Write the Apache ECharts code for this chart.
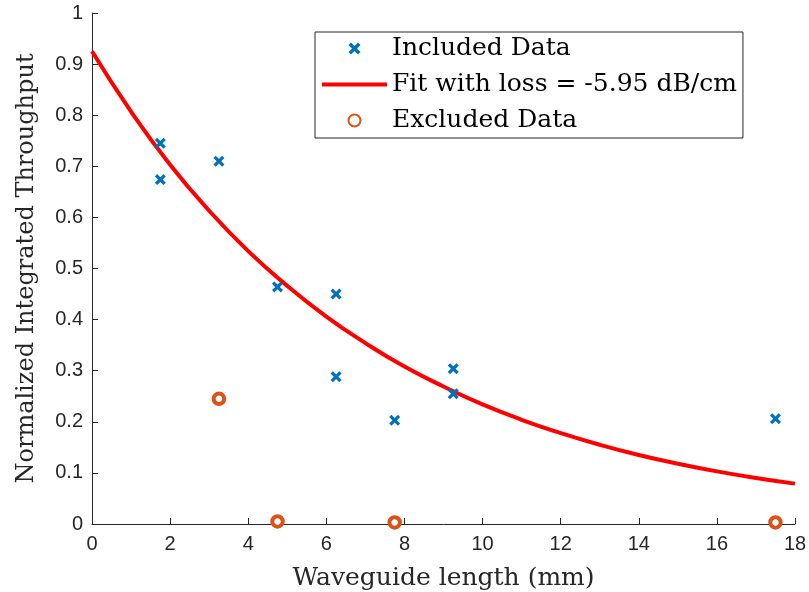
<!DOCTYPE html>
<html>
<head>
<meta charset="utf-8">
<script src="https://cdn.jsdelivr.net/npm/echarts@6/dist/echarts.min.js"></script>
<style>html,body{margin:0;padding:0;background:#fff}#c{width:809px;height:592px}</style>
</head>
<body>
<div id="c"></div>
<script>
// Included data (waveguide length mm, normalized throughput)
const includedX = [1.75, 1.75, 3.25, 4.75, 6.25, 6.25, 7.75, 9.25, 9.25, 17.5];
const includedY = [0.745, 0.674, 0.710, 0.464, 0.450, 0.288, 0.203, 0.304, 0.255, 0.206];
// Excluded data
const excludedX = [3.25, 4.75, 7.75, 17.5];
const excludedY = [0.245, 0.005, 0.003, 0.003];
// Fit curve
const fitX = [0, 1, 2, 3, 4, 5, 6, 7, 8, 9, 10, 11, 12, 13, 14, 15, 16, 17, 18];
const fitY = [0.925, 0.807, 0.703, 0.613, 0.534, 0.466, 0.406, 0.354, 0.308, 0.269, 0.234, 0.204, 0.178, 0.155, 0.135, 0.118, 0.103, 0.090, 0.079];
const xTicks = [0, 2, 4, 6, 8, 10, 12, 14, 16, 18];
const yTicks = [0, 0.1, 0.2, 0.3, 0.4, 0.5, 0.6, 0.7, 0.8, 0.9, 1];
const names = ['Included Data', 'Fit with loss = -5.95 dB/cm', 'Excluded Data'];

const crossPath = 'path://M0,2.5 L2.5,0 L6,3.5 L9.5,0 L12,2.5 L8.5,6 L12,9.5 L9.5,12 L6,8.5 L2.5,12 L0,9.5 L3.5,6 Z';
const linePath = 'path://M0,0 L65,0 L65,4 L0,4 Z';
const axisColor = '#262626';
const serif = '"DejaVu Serif", serif';
const sans = '"Liberation Sans", Arial, sans-serif';

const chart = echarts.init(document.getElementById('c'), null, {renderer: 'canvas'});
chart.setOption({
  animation: false,
  backgroundColor: '#fff',
  grid: {left: 92, right: 14, top: 13, bottom: 68, containLabel: false, outerBoundsMode: 'none'},
  xAxis: {
    type: 'value', min: xTicks[0], max: xTicks[xTicks.length - 1], interval: 2,
    name: 'Waveguide length (mm)', nameLocation: 'middle', nameGap: 42,
    nameTextStyle: {fontFamily: serif, fontSize: 25, color: axisColor},
    axisLine: {show: true, onZero: false, lineStyle: {color: axisColor, width: 1}},
    axisTick: {show: true, inside: true, length: 6, lineStyle: {color: axisColor}},
    axisLabel: {fontFamily: sans, fontSize: 20, color: axisColor, margin: 10},
    splitLine: {show: false}
  },
  yAxis: {
    type: 'value', min: yTicks[0], max: yTicks[yTicks.length - 1], interval: 0.1,
    name: 'Normalized Integrated Throughput', nameLocation: 'middle', nameGap: 53,
    nameTextStyle: {fontFamily: serif, fontSize: 24, color: axisColor},
    axisLine: {show: true, onZero: false, lineStyle: {color: axisColor, width: 1}},
    axisTick: {show: true, inside: true, length: 6, lineStyle: {color: axisColor}},
    axisLabel: {fontFamily: sans, fontSize: 20, color: axisColor, margin: 9,
      formatter: v => String(Math.round(v * 10) / 10)},
    splitLine: {show: false}
  },
  legend: {
    orient: 'vertical', left: 315, top: 32,
    data: [
      {name: names[0]},
      {name: names[1], icon: linePath, itemStyle: {color: '#FF0000', borderWidth: 0}},
      {name: names[2]}
    ],
    itemWidth: 65, itemHeight: 12, itemGap: 9,
    padding: [3, 6, 4, 7],
    backgroundColor: '#fff', borderColor: axisColor, borderWidth: 1,
    textStyle: {fontFamily: serif, fontSize: 25, color: '#000', lineHeight: 27},
    selectedMode: false
  },
  series: [
    {
      name: names[0], type: 'scatter',
      data: includedX.map((x, i) => [x, includedY[i]]),
      symbol: crossPath, symbolSize: 11,
      itemStyle: {color: '#0072BD', opacity: 1}, z: 3
    },
    {
      name: names[1], type: 'line', smooth: true, showSymbol: false, symbol: 'none',
      data: fitX.map((x, i) => [x, fitY[i]]),
      lineStyle: {color: '#FF0000', width: 4}, itemStyle: {color: '#FF0000'}, z: 2
    },
    {
      name: names[2], type: 'scatter',
      data: excludedX.map((x, i) => [x, excludedY[i]]),
      symbol: 'circle', symbolSize: 10.5,
      itemStyle: {color: '#fff', borderColor: '#D95319', borderWidth: 4, opacity: 1}, z: 4
    }
  ]
});
</script>
</body>
</html>
